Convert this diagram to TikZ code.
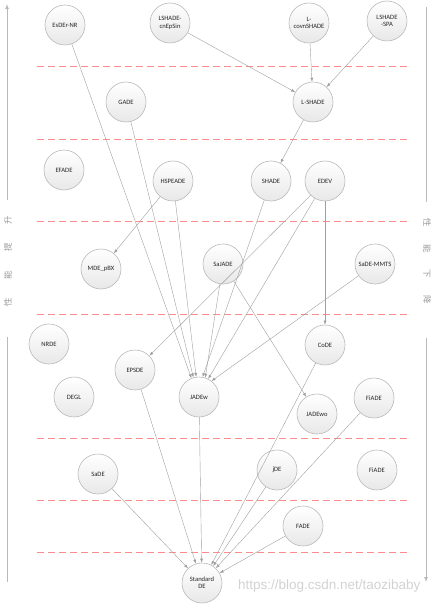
\documentclass[tikz,border=0pt]{standalone}
\usepackage{fontspec}
\setmainfont{Carlito}
\newfontfamily\cjk{Noto Sans CJK SC}
\newfontfamily\wmfont{Liberation Sans}
\usetikzlibrary{arrows.meta,shadings}
\begin{document}
\begin{tikzpicture}[x=1pt,y=-1pt,
  algo/.style={circle,minimum size=40pt,inner sep=0pt,draw=gray!55,line width=0.6pt,
    top color=white,bottom color=gray!18,font=\fontsize{6.6}{7.4}\selectfont,align=center,text=black!85},
  link/.style={draw=gray!75,line width=0.4pt,-{Latex[length=4pt,width=3pt]}},
  level/.style={draw=red!45,line width=0.8pt,dash pattern=on 7pt off 4pt},
  side/.style={draw=gray!55,line width=0.9pt},
  sidetext/.style={font=\cjk\fontsize{8.5}{9}\selectfont,text=gray!80}]
\useasboundingbox (0,0) rectangle (434,604);
% level separators
\foreach \yy in {66,139,221,314,438,500,552}
  \draw[level] (37,\yy) -- (408,\yy);
% side axes
\coordinate (lt) at (7,4); \coordinate (lm1) at (7,200);
\coordinate (lm2) at (7,337); \coordinate (lb) at (7,582);
\draw[side,-{Latex[length=5pt,width=4pt]}] (lm1) -- (lt);
\draw[side] (lm2) -- (lb);
\node[sidetext,rotate=90] (lefttext) at (8,261) {性\hspace{19pt}能\hspace{19pt}提\hspace{19pt}升};
\coordinate (rt) at (426,7); \coordinate (rm1) at (426,202);
\coordinate (rm2) at (426,338); \coordinate (rb) at (426,582);
\draw[side] (rt) -- (rm1);
\draw[side,-{Latex[length=5pt,width=4pt]}] (rm2) -- (rb);
\node[sidetext,rotate=-90] (righttext) at (427,261) {性\hspace{17pt}能\hspace{17pt}下\hspace{17pt}降};
% nodes
\node[algo] (esder) at (65,25) {EsDEr-NR};
\node[algo] (cnep) at (170,23) {LSHADE-\\cnEpSin};
\node[algo] (covn) at (309,23) {L-\\covnSHADE};
\node[algo] (spa) at (387,21) {LSHADE\\-SPA};
\node[algo] (gade) at (126,102) {GADE};
\node[algo] (lshade) at (313,102) {L-SHADE};
\node[algo] (efade) at (64,170) {EFADE};
\node[algo] (hspeade) at (173,181) {HSPEADE};
\node[algo] (shade) at (271,181) {SHADE};
\node[algo] (edev) at (325,181) {EDEV};
\node[algo] (mde) at (101,269) {MDE\_pBX};
\node[algo] (sajade) at (223,264) {SaJADE};
\node[algo] (sademmts) at (375,264) {SaDE-MMTS};
\node[algo] (nrde) at (49,344) {NRDE};
\node[algo] (code) at (325,345) {CoDE};
\node[algo] (epsde) at (135,370) {EPSDE};
\node[algo] (degl) at (74,397) {DEGL};
\node[algo] (jadew) at (199,397) {JADEw};
\node[algo] (fiade1) at (374,398) {FiADE};
\node[algo] (jadewo) at (317,414) {JADEwo};
\node[algo] (sade) at (98,474) {SaDE};
\node[algo] (jde) at (277,470) {jDE};
\node[algo] (fiade2) at (377,470) {FiADE};
\node[algo] (fade) at (303,526) {FADE};
\node[algo] (std) at (202,583) {Standard\\DE};
% edges
\draw[link] (cnep) -- (lshade);
\draw[link] (covn) -- (lshade);
\draw[link] (spa) -- (lshade);
\draw[link] (lshade) -- (shade);
\draw[link] (hspeade) -- (mde);
\draw[link] (esder) -- (jadew.112);
\draw[link] (gade) -- (jadew.106);
\draw[link] (hspeade) -- (jadew.98);
\draw[link] (shade) -- (jadew.80);
\draw[link] (sajade) -- (jadew.72);
\draw[link] (edev) -- (jadew.63);
\draw[link] (sademmts) -- (jadew.52);
\draw[link] (edev) -- (epsde);
\draw[link] (edev) -- (code);
\draw[link] (sajade) -- (jadewo);
\draw[link] (sade) -- (std);
\draw[link] (epsde) -- (std);
\draw[link] (jadew) -- (std);
\draw[link] (code) -- (std);
\draw[link] (jde) -- (std);
\draw[link] (fiade1) -- (std);
\draw[link] (fade) -- (std);
% watermark
\node[font=\wmfont\fontsize{13.5}{14}\selectfont,text=gray!35,anchor=east] (wm) at (424,586) {https://blog.csdn.net/taozibaby};
\end{tikzpicture}
\end{document}
